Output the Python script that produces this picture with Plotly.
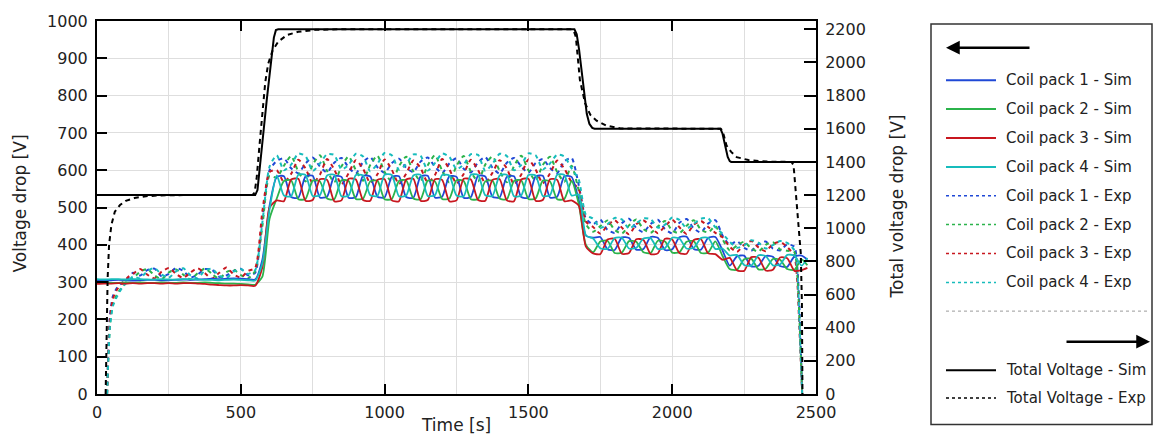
import plotly.graph_objects as go

# ---------------- data ----------------
T_SIM = [0, 25, 50, 75, 100, 125, 150, 175, 200, 225, 250, 275, 300, 325, 350, 375, 400, 425, 450, 475,
         500, 525, 550, 575, 600, 625, 650, 675, 700, 725, 750, 775, 800, 825, 850, 875, 900, 925, 950, 975,
         1000, 1025, 1050, 1075, 1100, 1125, 1150, 1175, 1200, 1225, 1250, 1275, 1300, 1325, 1350, 1375,
         1400, 1425, 1450, 1475, 1500, 1525, 1550, 1575, 1600, 1625, 1650, 1675, 1700, 1725, 1750, 1775,
         1800, 1825, 1850, 1875, 1900, 1925, 1950, 1975, 2000, 2025, 2050, 2075, 2100, 2125, 2150, 2175,
         2200, 2225, 2250, 2275, 2300, 2325, 2350, 2375, 2400, 2425, 2450, 2470]

SIM1 = [305, 304, 305, 306, 305, 304, 305, 306, 306, 305, 305, 306, 307, 306, 307, 308, 309, 308, 309, 310, 309, 308, 307,
        360, 505,
        582, 584, 528, 526, 583, 585, 527, 529, 584, 582, 526, 528, 585, 583, 529, 527, 582, 584, 528, 526, 583,
        585, 527, 529, 584, 582, 526, 528, 585, 583, 529, 527, 582, 584, 528, 526, 583, 585, 527, 529, 584, 582,
        520, 425,
        419, 421, 388, 386, 420, 418, 387, 389, 421, 419, 386, 388, 420, 422, 389, 387, 419, 421,
        385,
        344, 369, 371, 342, 344, 370, 368, 343, 341, 369, 371,
        360]
SIM2 = [298, 299, 298, 298, 299, 298, 299, 298, 298, 299, 298, 298, 299, 298, 298, 299, 298, 297, 296, 296, 295, 294, 293,
        315, 470,
        524, 571, 573, 522, 523, 572, 570, 524, 522, 573, 571, 523, 524, 570, 572, 522, 523, 571, 573, 524, 522,
        572, 570, 523, 524, 573, 571, 522, 523, 570, 572, 524, 522, 571, 573, 523, 524, 572, 570, 522, 523, 571,
        510, 400,
        380, 409, 411, 378, 379, 410, 408, 380, 378, 411, 409, 379, 380, 408, 410, 378, 379, 409,
        370,
        335, 333, 361, 363, 334, 336, 362, 360, 335, 333, 361,
        345]
SIM3 = [295, 296, 296, 297, 296, 297, 296, 297, 297, 296, 297, 296, 297, 297, 296, 295, 293, 292, 291, 291, 292, 291, 290,
        340, 500,
        519, 517, 575, 577, 518, 520, 576, 574, 517, 519, 577, 575, 520, 518, 574, 576, 519, 517, 575, 577, 518,
        520, 576, 574, 517, 519, 577, 575, 520, 518, 574, 576, 519, 517, 575, 577, 518, 520, 576, 574, 517, 519,
        505, 395,
        377, 375, 414, 416, 376, 378, 415, 413, 375, 377, 416, 414, 378, 376, 413, 415, 377, 375,
        360,
        365, 332, 330, 367, 365, 331, 333, 366, 364, 330, 332,
        338]
SIM4 = [308, 307, 308, 308, 307, 308, 308, 307, 307, 308, 307, 307, 308, 308, 307, 306, 306, 305, 306, 307, 306, 305, 304,
        350, 495,
        586, 532, 530, 588, 587, 531, 533, 586, 588, 530, 532, 587, 586, 533, 531, 588, 587, 530, 532, 586, 588,
        531, 533, 587, 586, 532, 530, 588, 587, 533, 531, 586, 588, 530, 532, 587, 586, 531, 533, 588, 587, 532,
        535, 425,
        417, 391, 389, 418, 419, 390, 392, 417, 418, 389, 391, 419, 417, 390, 392, 418, 419, 389,
        390,
        371, 373, 346, 344, 372, 370, 345, 347, 373, 371, 344,
        365]

T_EXP = [35, 40, 45, 55, 70, 90, 110,
         125, 150, 175, 200, 225, 250, 275, 300, 325, 350, 375, 400, 425, 450, 475, 500, 525, 550,
         575, 600, 625, 650, 675, 700, 725, 750, 775, 800, 825, 850, 875, 900, 925, 950, 975, 1000,
         1025, 1050, 1075, 1100, 1125, 1150, 1175, 1200, 1225, 1250, 1275, 1300, 1325, 1350, 1375,
         1400, 1425, 1450, 1475, 1500, 1525, 1550, 1575, 1600, 1625, 1650, 1675, 1700, 1725, 1750,
         1775, 1800, 1825, 1850, 1875, 1900, 1925, 1950, 1975, 2000, 2025, 2050, 2075, 2100, 2125,
         2150, 2175, 2200, 2225, 2250, 2275, 2300, 2325, 2350, 2375, 2400, 2425,
         2435, 2442, 2452]

EXP1 = [0, 130, 210, 262, 285, 300, 312,
        325, 318, 332, 336, 315, 322, 338, 330, 312, 320, 335, 333, 314, 318, 330, 336, 318, 325,
        470, 600,
        625, 632, 605, 592, 618, 634, 610, 594, 620, 633, 607, 591, 622, 635, 608, 593, 619, 631, 606, 595, 623,
        634, 609, 592, 618, 632, 604, 594, 621, 635, 607, 591, 620, 633, 610, 593, 619, 630, 606, 592, 624, 633,
        560, 470,
        455, 468, 440, 432, 458, 470, 445, 434, 456, 467, 442, 431, 459, 469, 444, 433, 457, 466,
        425,
        400, 410, 392, 384, 402, 409, 390, 385, 401, 395,
        340, 240, 0]
EXP2 = [0, 110, 185, 240, 268, 290, 305,
        310, 328, 335, 318, 308, 326, 334, 320, 307, 324, 336, 322, 309, 327, 333, 319, 310, 330,
        450, 585,
        580, 612, 638, 596, 570, 615, 640, 598, 568, 610, 637, 600, 572, 614, 639, 595, 569, 611, 636, 597, 571,
        613, 640, 599, 567, 612, 638, 596, 570, 615, 637, 598, 568, 611, 639, 600, 572, 614, 636, 595, 569, 612,
        545, 455,
        435, 450, 465, 440, 430, 452, 468, 442, 432, 449, 464, 438, 431, 451, 466, 441, 433, 450,
        415,
        385, 398, 408, 390, 382, 400, 407, 388, 384, 380,
        320, 210, 0]
EXP3 = [0, 120, 200, 255, 280, 298, 315,
        322, 335, 320, 310, 328, 338, 322, 311, 326, 337, 324, 309, 325, 339, 321, 312, 330, 338,
        490, 595,
        600, 568, 590, 628, 605, 565, 588, 630, 602, 562, 592, 627, 604, 566, 589, 629, 601, 563, 591, 626, 606,
        567, 587, 630, 603, 564, 590, 628, 600, 566, 593, 627, 605, 562, 588, 629, 602, 565, 591, 626, 604, 568,
        550, 462,
        448, 430, 452, 466, 446, 428, 455, 465, 449, 431, 450, 467, 447, 429, 454, 464, 448, 432,
        420,
        395, 381, 400, 410, 393, 383, 402, 408, 394, 370,
        300, 180, 0]
EXP4 = [0, 105, 180, 235, 262, 288, 303,
        315, 310, 330, 338, 320, 312, 329, 337, 318, 310, 331, 336, 317, 311, 328, 335, 322, 332,
        460, 610,
        640, 600, 615, 645, 638, 598, 618, 643, 641, 602, 614, 644, 637, 597, 617, 646, 640, 601, 616, 642, 639,
        599, 619, 645, 636, 603, 615, 643, 641, 598, 617, 644, 638, 600, 614, 645, 640, 602, 618, 642, 637, 605,
        575, 480,
        470, 445, 455, 472, 468, 443, 457, 471, 469, 446, 454, 473, 467, 444, 456, 470, 471, 447,
        430,
        408, 392, 398, 412, 406, 390, 399, 410, 405, 385,
        330, 200, 0]

T_TOT_SIM = [0, 550, 558, 565, 575, 590, 605, 615, 622, 630, 1660, 1668, 1676, 1685, 1695, 1703, 1712,
             1722, 1730, 2168, 2175, 2184, 2193, 2200, 2205, 2500]
TOT_SIM = [1200, 1200, 1230, 1350, 1550, 1770, 2000, 2150, 2195, 2200, 2200, 2170, 2080, 1950, 1800, 1690,
           1630, 1605, 1600, 1600, 1570, 1500, 1430, 1405, 1400, 1400]

T_TOT_EXP = [30, 33, 37, 42, 50, 62, 80, 100, 130, 170, 220, 300, 540, 548, 555, 565, 575, 585, 595, 610,
             630, 660, 700, 760, 850, 1650, 1658, 1665, 1679, 1697, 1715, 1737, 1772, 1820, 2168, 2175,
             2189, 2205, 2224, 2265, 2330, 2415, 2422, 2428, 2440, 2447, 2451, 2453]
TOT_EXP = [0, 300, 700, 900, 1020, 1100, 1140, 1165, 1182, 1193, 1198, 1200, 1200, 1215, 1300, 1500, 1700,
           1880, 1990, 2070, 2125, 2165, 2185, 2197, 2200, 2200, 2190, 2154, 1895, 1755, 1685, 1649, 1618,
           1602, 1600, 1590, 1498, 1460, 1429, 1411, 1402, 1400, 1380, 1250, 1000, 850, 550, 0]

SIM_NAMES = ["Coil pack 1 - Sim", "Coil pack 2 - Sim", "Coil pack 3 - Sim", "Coil pack 4 - Sim"]
EXP_NAMES = ["Coil pack 1 - Exp", "Coil pack 2 - Exp", "Coil pack 3 - Exp", "Coil pack 4 - Exp"]
TOT_NAMES = ["Total Voltage - Sim", "Total Voltage - Exp"]

# ---------------- styling ----------------
COLORS = ["#1f48d6", "#2bb34b", "#c8171f", "#17bcbc"]
FONT = "DejaVu Sans"
TXT = "#222222"

L, R, T, B = 97, 816, 17, 395          # plot area in pixels
def px(x):
    return (x - L) / (R - L)
def py(y):
    return (B - y) / (B - T)

fig = go.Figure()

for name, t, v, c in zip(EXP_NAMES, [T_EXP] * 4, [EXP1, EXP2, EXP3, EXP4], COLORS):
    fig.add_trace(go.Scatter(x=t, y=v, name=name, mode="lines",
                             line=dict(color=c, width=2, dash="4px,4px", shape="spline", smoothing=0.6)))
for name, t, v, c in zip(SIM_NAMES, [T_SIM] * 4, [SIM1, SIM2, SIM3, SIM4], COLORS):
    fig.add_trace(go.Scatter(x=t, y=v, name=name, mode="lines",
                             line=dict(color=c, width=1.8, shape="spline", smoothing=0.6)))
fig.add_trace(go.Scatter(x=T_TOT_EXP, y=TOT_EXP, name=TOT_NAMES[1], mode="lines", yaxis="y2",
                         line=dict(color="black", width=2, dash="5px,4px")))
fig.add_trace(go.Scatter(x=T_TOT_SIM, y=TOT_SIM, name=TOT_NAMES[0], mode="lines", yaxis="y2",
                         line=dict(color="black", width=2)))

axis_common = dict(showline=True, linewidth=2, linecolor="black", ticks="inside", tickwidth=2,
                   tickcolor="black", zeroline=False, tickfont=dict(family=FONT, size=16, color=TXT))
fig.update_layout(
    width=1158, height=434,
    margin=dict(l=L, r=1158 - R, t=T, b=434 - B),
    plot_bgcolor="white", paper_bgcolor="white", showlegend=False,
    font=dict(family=FONT, size=15, color=TXT),
    xaxis=dict(range=[0, 2500], tick0=0, dtick=500, ticklen=10, mirror="ticks",
               showgrid=True, gridcolor="#dedede", gridwidth=1,
               minor=dict(dtick=250, showgrid=True, gridcolor="#dedede", ticks=""),
               ticklabelstandoff=3, **axis_common),
    yaxis=dict(range=[0, 1000], tick0=0, dtick=100, ticklen=10, showgrid=True,
               gridcolor="#dedede", gridwidth=1, ticklabelstandoff=4, **axis_common),
    yaxis2=dict(range=[0, 2250], tick0=0, dtick=200, ticklen=12, overlaying="y", side="right",
                showgrid=False, ticklabelstandoff=4, **axis_common),
)

ann = []
shapes = []
# axis titles
TITLE_FONT = dict(size=17, family=FONT, color=TXT)
ann.append(dict(x=px(20), y=py(202), xref="paper", yref="paper", text="Voltage drop [V]",
                textangle=-90, showarrow=False, xanchor="center", yanchor="middle", font=TITLE_FONT))
ann.append(dict(x=px(897), y=py(205), xref="paper", yref="paper", text="Total voltage drop [V]",
                textangle=-90, showarrow=False, xanchor="center", yanchor="middle", font=TITLE_FONT))
ann.append(dict(x=px(456), y=py(426), xref="paper", yref="paper", text="Time [s]",
                showarrow=False, xanchor="center", yanchor="middle", font=TITLE_FONT))

# custom legend box
shapes.append(dict(type="rect", xref="paper", yref="paper", x0=px(931), x1=px(1152),
                   y0=py(20), y1=py(426), line=dict(color="#333333", width=1.5)))
ann.append(dict(x=px(946), y=py(44), xref="paper", yref="paper", text="", showarrow=True,
                ax=85, ay=0, arrowhead=2, arrowsize=1.1, arrowwidth=2.5, arrowcolor="black"))
ann.append(dict(x=px(1150), y=py(342), xref="paper", yref="paper", text="", showarrow=True,
                ax=-85, ay=0, arrowhead=2, arrowsize=1.1, arrowwidth=2.5, arrowcolor="black"))
shapes.append(dict(type="line", xref="paper", yref="paper", x0=px(946), x1=px(1150),
                   y0=py(311), y1=py(311), line=dict(color="#9a9a9a", width=1, dash="dot")))

entries = []
for i, (n, c) in enumerate(zip(SIM_NAMES, COLORS)):
    entries.append((n, c, "solid", 77 + i * 29.3))
for i, (n, c) in enumerate(zip(EXP_NAMES, COLORS)):
    entries.append((n, c, "dot", 194 + i * 29.3))
entries.append((TOT_NAMES[0], "black", "solid", 371))
entries.append((TOT_NAMES[1], "black", "dot", 399))
for n, c, d, yy in entries:
    shapes.append(dict(type="line", xref="paper", yref="paper", x0=px(946), x1=px(996),
                       y0=py(yy), y1=py(yy),
                       line=dict(color=c, width=2 if d == "solid" else 1.5, dash=d)))
    ann.append(dict(x=px(1004), y=py(yy), xref="paper", yref="paper", text=n, showarrow=False,
                    xanchor="left", yanchor="middle", font=dict(size=15, family=FONT, color=TXT)))

fig.update_layout(annotations=ann, shapes=shapes)
fig.write_html("out.html")
